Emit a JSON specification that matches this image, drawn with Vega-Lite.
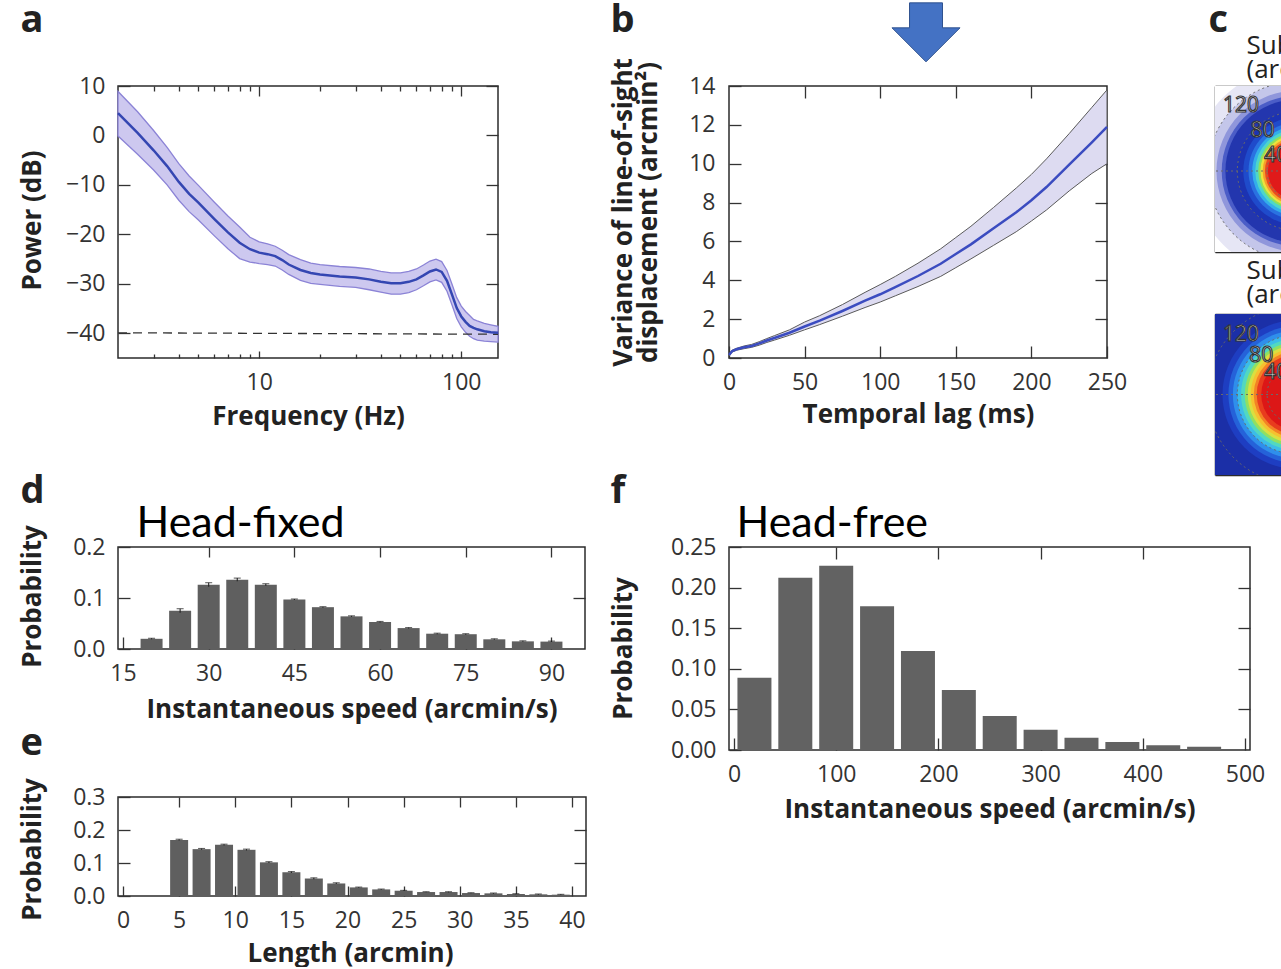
{
"$schema": "https://vega.github.io/schema/vega-lite/v6.json",
"background": "white",
"padding": {"left": 18, "top": 0, "right": 0, "bottom": 0},
"config": {
 "font": "Open Sans",
 "view": {"stroke": "#2b2b2b", "strokeWidth": 1.5},
 "axis": {"domain": false, "grid": false, "tickColor": "#333333", "tickWidth": 1.3, "labelFont": "Open Sans", "labelFontSize": 23, "labelColor": "#333333", "labelFlush": false, "labelOverlap": false, "titleFont": "Open Sans", "titleFontSize": 26, "titleFontWeight": "bold", "titleColor": "#222222", "titleLimit": 1000, "zindex": 1}
},
"datasets": {
 "psd": [
  {"f":2,"m":4.5,"lo":-0.1,"hi":8.9},{"f":2.5,"m":0.5,"lo":-3.8,"hi":4.8},{"f":3,"m":-3.0,"lo":-7.0,"hi":1.0},
  {"f":3.5,"m":-6.2,"lo":-10.0,"hi":-2.4},{"f":4,"m":-9.4,"lo":-13.1,"hi":-5.7},{"f":4.5,"m":-11.8,"lo":-15.4,"hi":-8.2},
  {"f":5,"m":-13.6,"lo":-17.1,"hi":-10.1},{"f":6,"m":-16.9,"lo":-20.3,"hi":-13.5},{"f":7,"m":-19.6,"lo":-22.9,"hi":-16.3},
  {"f":8,"m":-21.7,"lo":-24.9,"hi":-18.5},{"f":9,"m":-23.0,"lo":-25.6,"hi":-20.6},{"f":10,"m":-23.7,"lo":-25.9,"hi":-21.5},
  {"f":11,"m":-24.0,"lo":-26.1,"hi":-21.9},{"f":12,"m":-24.4,"lo":-26.4,"hi":-22.4},{"f":13,"m":-25.2,"lo":-27.2,"hi":-23.2},
  {"f":14,"m":-26.1,"lo":-28.1,"hi":-24.1},{"f":16,"m":-27.2,"lo":-29.3,"hi":-25.1},{"f":18,"m":-27.8,"lo":-29.9,"hi":-25.8},
  {"f":20,"m":-28.1,"lo":-30.1,"hi":-26.1},{"f":25,"m":-28.5,"lo":-30.5,"hi":-26.5},{"f":30,"m":-28.7,"lo":-30.7,"hi":-26.7},
  {"f":35,"m":-29.1,"lo":-31.2,"hi":-27.0},{"f":40,"m":-29.6,"lo":-31.7,"hi":-27.5},{"f":45,"m":-29.9,"lo":-32.1,"hi":-27.8},
  {"f":50,"m":-29.9,"lo":-32.1,"hi":-27.8},{"f":55,"m":-29.6,"lo":-31.8,"hi":-27.5},{"f":60,"m":-29.1,"lo":-31.2,"hi":-27.0},
  {"f":65,"m":-28.3,"lo":-30.4,"hi":-26.2},{"f":70,"m":-27.5,"lo":-29.6,"hi":-25.4},{"f":75,"m":-27.1,"lo":-29.2,"hi":-25.0},
  {"f":80,"m":-27.6,"lo":-29.7,"hi":-25.5},{"f":85,"m":-29.4,"lo":-31.5,"hi":-27.3},{"f":90,"m":-32.2,"lo":-34.3,"hi":-30.1},
  {"f":95,"m":-34.9,"lo":-37.0,"hi":-32.8},{"f":100,"m":-36.6,"lo":-38.7,"hi":-34.5},{"f":105,"m":-37.7,"lo":-39.8,"hi":-35.6},
  {"f":110,"m":-38.5,"lo":-40.6,"hi":-36.4},{"f":115,"m":-38.9,"lo":-41.1,"hi":-37.2},{"f":120,"m":-39.2,"lo":-41.4,"hi":-37.5},
  {"f":130,"m":-39.6,"lo":-41.6,"hi":-38.0},{"f":140,"m":-39.8,"lo":-41.7,"hi":-38.3},{"f":152,"m":-39.9,"lo":-41.8,"hi":-38.6}
 ],
 "floor": [{"f":2,"v":-39.9},{"f":152,"v":-40.2}],
 "msd": [
  {"t":0,"m":0.15,"lo":0.1,"hi":0.2},{"t":2,"m":0.35,"lo":0.3,"hi":0.4},{"t":5,"m":0.45,"lo":0.4,"hi":0.5},
  {"t":10,"m":0.55,"lo":0.48,"hi":0.62},{"t":15,"m":0.62,"lo":0.55,"hi":0.7},{"t":20,"m":0.75,"lo":0.66,"hi":0.84},
  {"t":25,"m":0.9,"lo":0.8,"hi":1.0},{"t":30,"m":1.03,"lo":0.92,"hi":1.15},{"t":40,"m":1.3,"lo":1.17,"hi":1.45},
  {"t":50,"m":1.62,"lo":1.45,"hi":1.85},{"t":60,"m":1.92,"lo":1.72,"hi":2.18},{"t":75,"m":2.42,"lo":2.15,"hi":2.75},
  {"t":90,"m":2.95,"lo":2.6,"hi":3.38},{"t":100,"m":3.28,"lo":2.88,"hi":3.78},{"t":110,"m":3.65,"lo":3.2,"hi":4.2},
  {"t":125,"m":4.22,"lo":3.68,"hi":4.88},{"t":140,"m":4.85,"lo":4.2,"hi":5.62},{"t":150,"m":5.35,"lo":4.65,"hi":6.2},
  {"t":160,"m":5.85,"lo":5.1,"hi":6.78},{"t":175,"m":6.68,"lo":5.8,"hi":7.75},{"t":190,"m":7.5,"lo":6.5,"hi":8.75},
  {"t":200,"m":8.12,"lo":7.05,"hi":9.45},{"t":210,"m":8.8,"lo":7.62,"hi":10.25},{"t":225,"m":9.95,"lo":8.6,"hi":11.55},
  {"t":240,"m":11.1,"lo":9.5,"hi":12.9},{"t":250,"m":11.9,"lo":10.0,"hi":13.8}
 ],
 "arrow": [{"t":130.3,"v":16.53}],
 "dfix": [
  {"s":20,"p":0.020,"lo":0.019,"hi":0.021},{"s":25,"p":0.075,"lo":0.071,"hi":0.079},{"s":30,"p":0.126,"lo":0.122,"hi":0.130},
  {"s":35,"p":0.136,"lo":0.133,"hi":0.139},{"s":40,"p":0.126,"lo":0.124,"hi":0.128},{"s":45,"p":0.097,"lo":0.096,"hi":0.098},
  {"s":50,"p":0.082,"lo":0.081,"hi":0.083},{"s":55,"p":0.064,"lo":0.063,"hi":0.065},{"s":60,"p":0.053,"lo":0.052,"hi":0.054},
  {"s":65,"p":0.041,"lo":0.040,"hi":0.042},{"s":70,"p":0.030,"lo":0.029,"hi":0.031},{"s":75,"p":0.029,"lo":0.028,"hi":0.030},
  {"s":80,"p":0.019,"lo":0.018,"hi":0.020},{"s":85,"p":0.015,"lo":0.014,"hi":0.016},{"s":90,"p":0.0145,"lo":0.0135,"hi":0.0155}
 ],
 "elen": [
  {"l":5,"p":0.170,"lo":0.168,"hi":0.172},{"l":7,"p":0.142,"lo":0.140,"hi":0.144},{"l":9,"p":0.155,"lo":0.153,"hi":0.157},
  {"l":11,"p":0.140,"lo":0.138,"hi":0.142},{"l":13,"p":0.102,"lo":0.100,"hi":0.104},{"l":15,"p":0.072,"lo":0.070,"hi":0.074},
  {"l":17,"p":0.053,"lo":0.051,"hi":0.055},{"l":19,"p":0.038,"lo":0.036,"hi":0.040},{"l":21,"p":0.026,"lo":0.025,"hi":0.027},
  {"l":23,"p":0.020,"lo":0.019,"hi":0.021},{"l":25,"p":0.016,"lo":0.015,"hi":0.017},{"l":27,"p":0.012,"lo":0.011,"hi":0.013},
  {"l":29,"p":0.012,"lo":0.011,"hi":0.013},{"l":31,"p":0.009,"lo":0.008,"hi":0.010},{"l":33,"p":0.008,"lo":0.007,"hi":0.009},
  {"l":35,"p":0.006,"lo":0.005,"hi":0.007},{"l":37,"p":0.005,"lo":0.004,"hi":0.006},{"l":39,"p":0.004,"lo":0.003,"hi":0.005}
 ],
 "ffree": [
  {"s":20,"p":0.089},{"s":60,"p":0.212},{"s":100,"p":0.227},{"s":140,"p":0.177},{"s":180,"p":0.122},{"s":220,"p":0.074},
  {"s":260,"p":0.042},{"s":300,"p":0.025},{"s":340,"p":0.015},{"s":380,"p":0.010},{"s":420,"p":0.006},{"s":460,"p":0.004}
 ],
 "ring1": [
  {"r":200,"col":"#ffffff"},{"r":140,"col":"#e6e6f5"},{"r":120,"col":"#c4c6ea"},{"r":108,"col":"#8f96db"},
  {"r":101,"col":"#4b5dc7"},{"r":96,"col":"#2336ae"},{"r":80,"col":"#1c33b2"},{"r":72,"col":"#1f4bcb"},
  {"r":65,"col":"#2a72e1"},{"r":60,"col":"#33aeea"},{"r":56,"col":"#4ed6c9"},{"r":52,"col":"#8fe05b"},
  {"r":49,"col":"#eee23d"},{"r":46,"col":"#f5a02a"},{"r":43,"col":"#ea4a20"},{"r":39,"col":"#e01a1a"}
 ],
 "ring2": [
  {"r":200,"col":"#1b2fa7"},{"r":100,"col":"#1e3ec2"},{"r":92,"col":"#2562d9"},{"r":86,"col":"#2f8feb"},
  {"r":80,"col":"#3cbce8"},{"r":75,"col":"#52d8c0"},{"r":70,"col":"#90e062"},{"r":66,"col":"#dadf40"},
  {"r":62,"col":"#f6c030"},{"r":58,"col":"#f38225"},{"r":54,"col":"#e83c1e"},{"r":48,"col":"#dc1717"}
 ],
 "dots": [{"r":40},{"r":80},{"r":120}],
 "hline": [{"y":0}],
 "lab1": [{"t":"120","x":-75,"y":87},{"t":"80","x":-46,"y":54},{"t":"40","x":-28,"y":20}],
 "lab2": [{"t":"120","x":-75,"y":80},{"t":"80","x":-48,"y":52},{"t":"40","x":-28,"y":29}]
},
"spacing": 21,
"hconcat": [
 {"spacing": 41, "vconcat": [
  {"width":380,"height":272,
   "layer":[
    {"data":{"name":"psd"},"mark":{"type":"area","fill":"#cdc8ef","stroke":"#8b83d6","strokeWidth":1.3},
     "encoding":{
      "x":{"field":"f","type":"quantitative","scale":{"type":"log","domain":[2,152],"nice":false},"axis":{"orient":"bottom","values":[10,100],"format":"d","tickSize":-7,"labelPadding":20,"title":"Frequency (Hz)","titleX":190,"titleY":66,"titleAlign":"center","titleAngle":0,"titleBaseline":"alphabetic"}},
      "y":{"field":"lo","type":"quantitative","scale":{"domain":[-45,10],"nice":false,"zero":false},"axis":{"orient":"left","values":[-40,-30,-20,-10,0,10],"tickSize":-12,"labelPadding":25,"title":"Power (dB)","titleX":-78,"titleY":134,"titleAlign":"center","titleAngle":-90,"titleBaseline":"alphabetic"}},
      "y2":{"field":"hi"}}},
    {"data":{"name":"floor"},"mark":{"type":"line","stroke":"#333333","strokeWidth":1.3,"strokeDash":[9,6]},
     "encoding":{
      "x":{"field":"f","type":"quantitative","scale":{"type":"log","domain":[2,152],"nice":false},"axis":{"orient":"bottom","values":[3,4,5,6,7,8,9,20,30,40,50,60,70,80,90],"tickSize":-4,"labels":false,"title":null}},
      "y":{"field":"v","type":"quantitative","scale":{"domain":[-45,10],"nice":false,"zero":false},"axis":null}}},
    {"data":{"name":"floor"},"mark":{"type":"line","opacity":0},
     "encoding":{
      "x":{"field":"f","type":"quantitative","scale":{"type":"log","domain":[2,152],"nice":false},"axis":{"orient":"top","values":[3,4,5,6,7,8,9,20,30,40,50,60,70,80,90],"tickSize":-5,"labels":false,"title":null}},
      "y":{"field":"v","type":"quantitative","scale":{"domain":[-45,10],"nice":false,"zero":false},"axis":null}}},
    {"data":{"name":"psd"},"mark":{"type":"line","stroke":"#3446b2","strokeWidth":2.5},
     "encoding":{
      "x":{"field":"f","type":"quantitative","scale":{"type":"log","domain":[2,152],"nice":false},"axis":{"orient":"top","values":[10,100],"tickSize":-10,"labels":false,"title":"a","titleX":-98,"titleY":-55,"titleAlign":"left","titleAngle":0,"titleBaseline":"alphabetic","titleFontSize":38}},
      "y":{"field":"m","type":"quantitative","scale":{"domain":[-45,10],"nice":false,"zero":false},"axis":{"orient":"right","values":[-40,-30,-20,-10,0,10],"tickSize":-12,"labels":false,"title":null}}}}
   ],
   "resolve":{"axis":{"x":"independent","y":"independent"}}},
  {"bounds":"flush","spacing":148,"vconcat":[
   {"width":467,"height":102,
    "layer":[
     {"data":{"name":"dfix"},"mark":{"type":"bar","orient":"vertical","width":22,"color":"#5f5f5f"},
      "encoding":{
       "x":{"field":"s","type":"quantitative","scale":{"domain":[15,95],"nice":false,"zero":false},"axis":{"orient":"bottom","values":[15,30,45,60,75,90],"tickSize":-12,"labelPadding":25,"title":"Instantaneous speed (arcmin/s)","titleX":233.5,"titleY":68,"titleAlign":"center","titleAngle":0,"titleBaseline":"alphabetic"}},
       "y":{"field":"p","type":"quantitative","scale":{"domain":[0,0.2],"nice":false},"axis":{"orient":"left","values":[0,0.1,0.2],"format":".1f","tickSize":-12,"labelPadding":25,"title":"Probability","titleX":-78,"titleY":49,"titleAlign":"center","titleAngle":-90,"titleBaseline":"alphabetic"}}}},
     {"data":{"name":"dfix"},"mark":{"type":"rule","stroke":"#222222","strokeWidth":1.1},
      "encoding":{
       "x":{"field":"s","type":"quantitative","scale":{"domain":[15,95],"nice":false,"zero":false},"axis":{"orient":"top","values":[30,45,60,75,90],"tickSize":-10,"labels":false,"title":"Head-fixed","titleX":18,"titleY":-11,"titleAlign":"left","titleAngle":0,"titleBaseline":"alphabetic","titleFont":"Lato","titleFontSize":43,"titleFontWeight":"normal","titleColor":"#000000"}},
       "y":{"field":"lo","type":"quantitative","scale":{"domain":[0,0.2],"nice":false},"axis":{"orient":"right","values":[0.1],"tickSize":-12,"labels":false,"title":"d","titleX":-565,"titleY":-45,"titleAlign":"left","titleAngle":0,"titleBaseline":"alphabetic","titleFontSize":38}},
       "y2":{"field":"hi"}}},
     {"data":{"name":"dfix"},"mark":{"type":"tick","orient":"horizontal","size":7,"thickness":1.1,"color":"#222222"},
      "encoding":{"x":{"field":"s","type":"quantitative","axis":null},"y":{"field":"hi","type":"quantitative","axis":null}}}
    ],
    "resolve":{"axis":{"x":"independent","y":"independent"}}},
   {"width":468,"height":99,
    "layer":[
     {"data":{"name":"elen"},"mark":{"type":"bar","orient":"vertical","width":18,"color":"#5f5f5f"},
      "encoding":{
       "x":{"field":"l","type":"quantitative","scale":{"domain":[0,40.8],"nice":false,"zero":false},"axis":{"orient":"bottom","values":[0,5,10,15,20,25,30,35,40],"tickSize":-10,"labelPadding":23,"title":"Length (arcmin)","titleX":232,"titleY":65,"titleAlign":"center","titleAngle":0,"titleBaseline":"alphabetic"}},
       "y":{"field":"p","type":"quantitative","scale":{"domain":[0,0.3],"nice":false},"axis":{"orient":"left","values":[0,0.1,0.2,0.3],"format":".1f","tickSize":-12,"labelPadding":25,"title":"Probability","titleX":-78,"titleY":52,"titleAlign":"center","titleAngle":-90,"titleBaseline":"alphabetic"}}}},
     {"data":{"name":"elen"},"mark":{"type":"rule","stroke":"#222222","strokeWidth":1.1},
      "encoding":{
       "x":{"field":"l","type":"quantitative","scale":{"domain":[0,40.8],"nice":false,"zero":false},"axis":{"orient":"top","values":[5,10,15,20,25,30,35,40],"tickSize":-10,"labels":false,"title":"e","titleX":-98,"titleY":-43,"titleAlign":"left","titleAngle":0,"titleBaseline":"alphabetic","titleFontSize":38}},
       "y":{"field":"lo","type":"quantitative","scale":{"domain":[0,0.3],"nice":false},"axis":{"orient":"right","values":[0.1,0.2],"tickSize":-12,"labels":false,"title":null}},
       "y2":{"field":"hi"}}},
     {"data":{"name":"elen"},"mark":{"type":"tick","orient":"horizontal","size":7,"thickness":1.1,"color":"#222222"},
      "encoding":{"x":{"field":"l","type":"quantitative","axis":null},"y":{"field":"hi","type":"quantitative","axis":null}}}
    ],
    "resolve":{"axis":{"x":"independent","y":"independent"}}}
  ]}
 ]},
 {"spacing": -4, "vconcat": [
  {"spacing": 80, "hconcat": [
   {"width":378,"height":272,
    "layer":[
     {"data":{"name":"msd"},"mark":{"type":"area","fill":"#dddbf1","stroke":"#5a5a5a","strokeWidth":1},
      "encoding":{
       "x":{"field":"t","type":"quantitative","scale":{"domain":[0,250],"nice":false},"axis":{"orient":"bottom","values":[0,50,100,150,200,250],"tickSize":-12,"labelPadding":25,"title":"Temporal lag (ms)","titleX":189,"titleY":64,"titleAlign":"center","titleAngle":0,"titleBaseline":"alphabetic"}},
       "y":{"field":"lo","type":"quantitative","scale":{"domain":[0,14],"nice":false},"axis":{"orient":"left","values":[0,2,4,6,8,10,12,14],"tickSize":-12,"labelPadding":26,"title":["Variance of line-of-sight","displacement (arcmin²)"],"titleX":-98,"titleY":126,"titleAlign":"center","titleAngle":-90,"titleBaseline":"alphabetic","titleLineHeight":25}},
       "y2":{"field":"hi"}}},
     {"data":{"name":"msd"},"mark":{"type":"line","stroke":"#3b4cc0","strokeWidth":2.5},
      "encoding":{
       "x":{"field":"t","type":"quantitative","scale":{"domain":[0,250],"nice":false},"axis":{"orient":"top","values":[50,100,150,200],"tickSize":-12,"labels":false,"title":"b","titleX":-119,"titleY":-55,"titleAlign":"left","titleAngle":0,"titleBaseline":"alphabetic","titleFontSize":38}},
       "y":{"field":"m","type":"quantitative","scale":{"domain":[0,14],"nice":false},"axis":{"orient":"right","values":[2,4,6,8,10,12],"tickSize":-12,"labels":false,"title":null}}}},
     {"data":{"name":"arrow"},"mark":{"type":"point","shape":"M-0.485,-1L0.485,-1L0.485,-0.265L1,-0.265L0,0.735L-1,-0.265L-0.485,-0.265Z","size":4624,"filled":true,"fill":"#4472c4","stroke":"#2f528f","strokeWidth":1,"strokeJoin":"round","opacity":1},
      "encoding":{"x":{"field":"t","type":"quantitative","axis":null},"y":{"field":"v","type":"quantitative","axis":null}}}
    ],
    "resolve":{"axis":{"x":"independent","y":"independent"}}},
   {"bounds":"flush","spacing":62,"vconcat":[
    {"width":68,"height":166,"view":{"stroke":null},
     "layer":[
      {"data":{"name":"ring1"},"mark":{"type":"circle","opacity":1,"clip":true,"strokeWidth":0},
       "encoding":{
        "x":{"datum":0,"type":"quantitative","scale":{"domain":[-110,-18.7],"nice":false,"zero":false},"axis":{"orient":"top","domain":true,"domainColor":"#2b2b2b","domainWidth":1.5,"ticks":false,"labels":false,"title":["Sub","(arc"],"titleX":31,"titleY":-33,"titleAlign":"left","titleAngle":0,"titleBaseline":"alphabetic","titleFontSize":26,"titleFontWeight":"normal","titleLineHeight":24}},
        "y":{"datum":0,"type":"quantitative","scale":{"domain":[-109,114.4],"nice":false,"zero":false},"axis":{"orient":"left","domain":true,"domainColor":"#2b2b2b","domainWidth":1.5,"ticks":false,"labels":false,"title":"c","titleX":-7,"titleY":-55,"titleAlign":"left","titleAngle":0,"titleBaseline":"alphabetic","titleFontSize":38}},
        "size":{"field":"r","type":"quantitative","scale":{"type":"pow","exponent":2,"domain":[0,110],"range":[0,26850],"zero":true,"nice":false},"legend":null},
        "color":{"field":"col","type":"nominal","scale":null,"legend":null}}},
      {"data":{"name":"dots"},"mark":{"type":"circle","filled":false,"clip":true,"stroke":"#6a6a6a","strokeWidth":1,"strokeDash":[2,3],"opacity":1},
       "encoding":{
        "x":{"datum":0,"type":"quantitative","axis":{"orient":"bottom","domain":true,"domainColor":"#2b2b2b","domainWidth":1.5,"ticks":false,"labels":false,"title":null}},
        "y":{"datum":0,"type":"quantitative","axis":null},
        "size":{"field":"r","type":"quantitative","legend":null}}},
      {"data":{"name":"hline"},"mark":{"type":"rule","stroke":"#6a6a6a","strokeWidth":1,"strokeDash":[2,3]},
       "encoding":{"y":{"field":"y","type":"quantitative","axis":null}}},
      {"data":{"name":"lab1"},"mark":{"type":"text","clip":true,"font":"Open Sans","fontSize":21,"fill":"#f2f2f2","stroke":"#333333","strokeWidth":1.1,"align":"center","baseline":"middle"},
       "encoding":{"x":{"field":"x","type":"quantitative","axis":null},"y":{"field":"y","type":"quantitative","axis":null},"text":{"field":"t"}}}
     ],
     "resolve":{"axis":{"x":"independent","y":"independent"}}},
    {"width":68,"height":161,"view":{"stroke":null},
     "layer":[
      {"data":{"name":"ring2"},"mark":{"type":"circle","opacity":1,"clip":true,"strokeWidth":0},
       "encoding":{
        "x":{"datum":0,"type":"quantitative","scale":{"domain":[-110,-18.7],"nice":false,"zero":false},"axis":{"orient":"top","domain":true,"domainColor":"#2b2b2b","domainWidth":1.5,"ticks":false,"labels":false,"title":["Sub","(arc"],"titleX":31,"titleY":-36,"titleAlign":"left","titleAngle":0,"titleBaseline":"alphabetic","titleFontSize":26,"titleFontWeight":"normal","titleLineHeight":24}},
        "y":{"datum":0,"type":"quantitative","scale":{"domain":[-109,109],"nice":false,"zero":false},"axis":{"orient":"left","domain":true,"domainColor":"#2b2b2b","domainWidth":1.5,"ticks":false,"labels":false,"title":null}},
        "size":{"field":"r","type":"quantitative","scale":{"type":"pow","exponent":2,"domain":[0,110],"range":[0,26850],"zero":true,"nice":false},"legend":null},
        "color":{"field":"col","type":"nominal","scale":null,"legend":null}}},
      {"data":{"name":"dots"},"mark":{"type":"circle","filled":false,"clip":true,"stroke":"#6a6a6a","strokeWidth":1,"strokeDash":[2,3],"opacity":1},
       "encoding":{
        "x":{"datum":0,"type":"quantitative","axis":{"orient":"bottom","domain":true,"domainColor":"#2b2b2b","domainWidth":1.5,"ticks":false,"labels":false,"title":null}},
        "y":{"datum":0,"type":"quantitative","axis":null},
        "size":{"field":"r","type":"quantitative","legend":null}}},
      {"data":{"name":"hline"},"mark":{"type":"rule","stroke":"#6a6a6a","strokeWidth":1,"strokeDash":[2,3]},
       "encoding":{"y":{"field":"y","type":"quantitative","axis":null}}},
      {"data":{"name":"lab2"},"mark":{"type":"text","clip":true,"font":"Open Sans","fontSize":21,"fill":"#f2f2f2","stroke":"#333333","strokeWidth":1.1,"align":"center","baseline":"middle"},
       "encoding":{"x":{"field":"x","type":"quantitative","axis":null},"y":{"field":"y","type":"quantitative","axis":null},"text":{"field":"t"}}}
     ],
     "resolve":{"axis":{"x":"independent","y":"independent"}}}
   ]}
  ]},
  {"width":521,"height":203,
   "layer":[
    {"data":{"name":"ffree"},"mark":{"type":"bar","orient":"vertical","width":34,"color":"#626262"},
     "encoding":{
      "x":{"field":"s","type":"quantitative","scale":{"domain":[0,500],"nice":false},"axis":{"orient":"bottom","values":[0,100,200,300,400,500],"tickSize":-12,"labelPadding":25,"title":"Instantaneous speed (arcmin/s)","titleX":260.5,"titleY":67,"titleAlign":"center","titleAngle":0,"titleBaseline":"alphabetic"}},
      "y":{"field":"p","type":"quantitative","scale":{"domain":[0,0.25],"nice":false},"axis":{"orient":"left","values":[0,0.05,0.1,0.15,0.2,0.25],"format":".2f","tickSize":-12,"labelPadding":25,"title":"Probability","titleX":-98,"titleY":101,"titleAlign":"center","titleAngle":-90,"titleBaseline":"alphabetic"}}}},
    {"data":{"name":"ffree"},"mark":{"type":"point","opacity":0},
     "encoding":{
      "x":{"field":"s","type":"quantitative","scale":{"domain":[0,500],"nice":false},"axis":{"orient":"top","values":[100,200,300,400],"tickSize":-12,"labels":false,"title":"Head-free","titleX":7,"titleY":-11,"titleAlign":"left","titleAngle":0,"titleBaseline":"alphabetic","titleFont":"Lato","titleFontSize":43,"titleFontWeight":"normal","titleColor":"#000000"}},
      "y":{"field":"p","type":"quantitative","scale":{"domain":[0,0.25],"nice":false},"axis":{"orient":"right","values":[0.05,0.1,0.15,0.2],"tickSize":-12,"labels":false,"title":"f","titleX":-640,"titleY":-45,"titleAlign":"left","titleAngle":0,"titleBaseline":"alphabetic","titleFontSize":38}}}}
   ],
   "resolve":{"axis":{"x":"independent","y":"independent"}}}
 ]}
]
}
